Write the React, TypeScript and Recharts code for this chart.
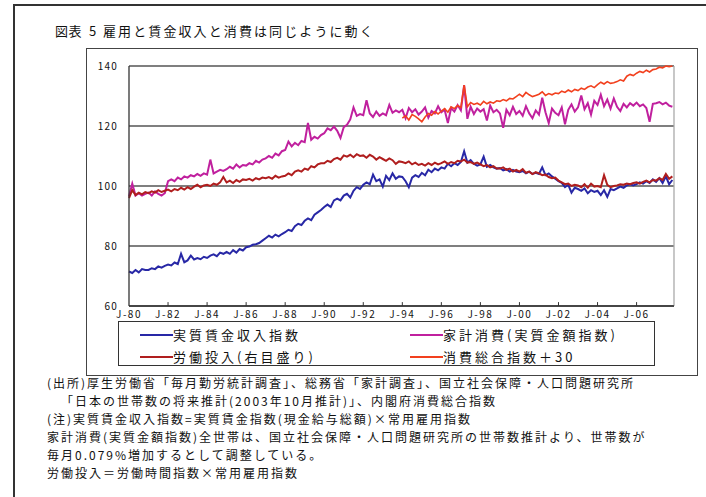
import { LineChart, Line, XAxis, YAxis, CartesianGrid, ReferenceLine } from "recharts";

const FONT = "'Noto Sans CJK JP', 'Noto Sans', sans-serif";

// bimonthly samples (Jan, Mar, May, Jul, Sep, Nov), Jan 1980 – Nov 2007
const STEP = 2;

const tickLabels = [
  "J-80", "J-82", "J-84", "J-86", "J-88", "J-90", "J-92",
  "J-94", "J-96", "J-98", "J-00", "J-02", "J-04", "J-06",
];
const yTicks = [60, 80, 100, 120, 140];

// 実質賃金収入指数
const wageIncome = [
  71.5, 71.0, 72.0, 71.2, 72.3, 72.0, // 1980
  72.0, 72.6, 72.3, 73.2, 72.8, 73.4, // 1981
  73.8, 73.5, 74.5, 74.0, 77.4, 74.6, // 1982
  75.2, 76.8, 75.5, 76.0, 75.6, 76.4, // 1983
  76.0, 76.8, 77.2, 76.6, 77.8, 77.4, // 1984
  78.0, 77.4, 78.6, 77.8, 79.0, 78.5, // 1985
  79.6, 79.8, 80.4, 80.6, 81.0, 81.8, // 1986
  82.6, 83.4, 82.8, 83.8, 83.2, 84.0, // 1987
  84.6, 85.4, 85.0, 86.6, 87.4, 87.0, // 1988
  88.4, 89.2, 88.6, 90.4, 91.2, 92.0, // 1989
  93.0, 93.8, 93.0, 95.2, 95.8, 95.2, // 1990
  96.8, 97.4, 96.2, 98.4, 99.6, 99.0, // 1991
  100.4, 101.2, 100.6, 103.8, 101.6, 102.2, // 1992
  99.8, 103.4, 102.0, 104.2, 102.4, 103.2, // 1993
  103.0, 101.6, 99.6, 102.8, 103.6, 103.0, // 1994
  104.4, 103.6, 105.4, 104.6, 105.8, 105.2, // 1995
  106.2, 105.8, 107.4, 106.6, 107.6, 107.0, // 1996
  108.0, 111.6, 107.8, 108.6, 107.4, 106.8, // 1997
  107.2, 109.8, 106.4, 107.0, 106.2, 105.8, // 1998
  106.0, 105.2, 105.6, 104.8, 105.4, 104.8, // 1999
  104.6, 105.0, 104.2, 104.8, 104.0, 104.4, // 2000
  104.0, 106.2, 103.6, 104.2, 103.2, 102.4, // 2001
  101.6, 101.0, 99.6, 100.4, 97.8, 99.4, // 2002
  99.0, 98.4, 99.2, 97.6, 98.6, 98.0, // 2003
  98.4, 97.0, 98.6, 96.4, 99.0, 98.6, // 2004
  99.2, 99.8, 99.4, 100.2, 100.6, 100.2, // 2005
  100.6, 101.2, 100.8, 101.6, 101.0, 102.2, // 2006
  101.4, 102.6, 101.0, 103.2, 100.6, 102.0, // 2007
];

// 家計消費(実質金額指数)
const householdSpending = [
  96.6, 100.8, 96.8, 97.6, 96.8, 97.4, // 1980
  97.8, 96.8, 98.2, 97.4, 96.8, 97.6, // 1981
  101.6, 102.2, 101.6, 102.8, 102.2, 103.2, // 1982
  102.8, 103.6, 103.2, 104.0, 103.4, 104.2, // 1983
  103.8, 108.8, 104.2, 104.8, 105.4, 105.0, // 1984
  105.6, 106.4, 105.8, 107.2, 106.2, 107.0, // 1985
  106.8, 107.6, 107.2, 108.4, 107.8, 108.8, // 1986
  109.2, 110.0, 109.4, 110.8, 110.2, 111.6, // 1987
  112.0, 114.8, 113.2, 114.4, 113.6, 115.0, // 1988
  114.6, 121.0, 115.4, 116.4, 115.8, 117.0, // 1989
  117.6, 119.2, 118.6, 119.8, 118.4, 116.0, // 1990
  119.6, 120.4, 122.2, 126.2, 123.4, 124.0, // 1991
  123.6, 128.6, 124.2, 123.0, 124.8, 123.4, // 1992
  124.2, 123.6, 127.0, 124.4, 125.2, 124.6, // 1993
  125.4, 122.6, 126.0, 124.6, 125.6, 123.8, // 1994
  124.8, 126.2, 122.8, 125.0, 124.2, 126.6, // 1995
  124.6, 125.4, 121.0, 126.0, 124.8, 127.0, // 1996
  125.2, 133.6, 122.4, 126.4, 124.0, 125.8, // 1997
  124.8, 125.6, 121.8, 126.8, 124.6, 125.4, // 1998
  124.2, 119.4, 125.4, 123.6, 126.4, 124.0, // 1999
  125.0, 123.4, 126.6, 124.2, 122.6, 125.2, // 2000
  123.8, 129.4, 124.6, 121.0, 125.8, 124.4, // 2001
  123.6, 126.2, 120.6, 125.4, 127.2, 124.8, // 2002
  126.2, 130.2, 125.6, 127.6, 123.8, 128.4, // 2003
  127.0, 130.4, 126.6, 128.8, 125.8, 129.2, // 2004
  126.4, 125.0, 127.4, 126.2, 127.6, 126.8, // 2005
  127.8, 126.6, 127.2, 126.0, 121.4, 127.4, // 2006
  127.6, 128.0, 127.2, 127.8, 126.8, 126.4, // 2007
];

// 労働投入(右目盛り)
const laborInput = [
  96.0, 98.6, 97.0, 97.8, 97.2, 98.0, // 1980
  97.6, 98.2, 97.8, 98.6, 98.0, 98.4, // 1981
  98.8, 98.2, 99.0, 98.6, 99.4, 98.8, // 1982
  99.6, 99.0, 99.8, 100.4, 99.6, 100.2, // 1983
  100.4, 100.0, 100.8, 100.4, 101.2, 103.0, // 1984
  101.2, 101.8, 101.0, 102.0, 101.4, 102.2, // 1985
  102.0, 102.4, 101.8, 102.6, 102.2, 102.8, // 1986
  102.6, 103.0, 102.4, 103.4, 102.8, 103.2, // 1987
  103.4, 104.2, 103.6, 104.8, 105.2, 104.8, // 1988
  105.8, 105.4, 106.6, 106.2, 107.2, 107.6, // 1989
  107.6, 108.4, 108.0, 109.0, 109.4, 108.8, // 1990
  110.2, 109.8, 110.4, 109.6, 110.6, 110.0, // 1991
  110.2, 109.4, 110.4, 109.8, 108.8, 109.6, // 1992
  109.0, 108.4, 109.2, 108.6, 107.4, 108.2, // 1993
  108.0, 107.6, 108.2, 107.2, 107.8, 107.0, // 1994
  107.4, 106.8, 107.6, 107.0, 107.8, 107.2, // 1995
  107.6, 108.2, 107.4, 108.0, 107.6, 108.4, // 1996
  108.2, 108.8, 107.8, 108.0, 107.4, 107.8, // 1997
  107.2, 106.6, 107.0, 106.2, 106.6, 105.8, // 1998
  105.8, 106.2, 105.4, 105.8, 104.8, 105.4, // 1999
  104.8, 105.6, 104.4, 104.8, 104.0, 104.6, // 2000
  104.2, 103.6, 103.8, 103.0, 102.6, 102.8, // 2001
  101.8, 101.2, 100.6, 100.8, 100.0, 100.4, // 2002
  100.2, 99.6, 100.6, 99.4, 100.8, 99.8, // 2003
  100.0, 99.6, 103.6, 100.4, 99.6, 100.0, // 2004
  100.2, 100.6, 100.4, 100.8, 100.6, 101.0, // 2005
  101.2, 100.8, 101.4, 101.8, 101.2, 102.0, // 2006
  101.8, 102.6, 102.0, 104.0, 102.4, 103.2, // 2007
];

// 消費総合指数+30, from Jan 1994
const CONS_START = 84;
const consumptionTotal = [
  122.6, 123.4, 122.0, 123.8, 123.2, 122.4, // 1994
  121.4, 123.0, 124.2, 123.6, 124.8, 124.0, // 1995
  125.0, 125.8, 124.6, 126.4, 125.8, 126.8, // 1996
  126.2, 133.6, 126.4, 127.8, 127.2, 127.6, // 1997
  127.0, 128.2, 127.4, 128.0, 127.6, 128.4, // 1998
  128.2, 128.8, 128.4, 129.2, 129.0, 129.8, // 1999
  130.6, 129.8, 131.2, 130.4, 129.8, 130.2, // 2000
  130.6, 131.4, 130.2, 130.8, 130.4, 131.0, // 2001
  130.8, 131.6, 131.2, 132.0, 131.4, 132.2, // 2002
  131.8, 132.6, 132.2, 133.0, 133.4, 132.8, // 2003
  133.8, 134.6, 134.0, 134.8, 134.2, 134.4, // 2004
  134.8, 135.4, 135.0, 136.6, 137.2, 136.8, // 2005
  137.6, 138.2, 137.8, 138.6, 138.0, 138.8, // 2006
  139.0, 139.6, 139.4, 140.0, 139.8, 140.0, // 2007
];

const data = wageIncome.map((v, i) => ({
  t: i * STEP,
  wage: v,
  spend: householdSpending[i],
  labor: laborInput[i],
  cons: i >= CONS_START ? consumptionTotal[i - CONS_START] : null,
}));

const tickMonths = tickLabels.map((_, i) => i * 24);
const LAST_MONTH = 335;

const COLORS = {
  wage: "#2828a6",
  spend: "#c0209e",
  labor: "#b01e1e",
  cons: "#f2401e",
};

const XTick = ({ x, y, payload }: any) => (
  <text x={x} y={y} dy={8} textAnchor="middle" fontSize={10} letterSpacing={1.5} fill="#111" fontFamily={FONT}>
    {tickLabels[Math.round(payload.value / 24)]}
  </text>
);

const YTick = ({ x, y, payload }: any) => (
  <text x={x} y={y} dy={4} textAnchor="end" fontSize={10} letterSpacing={1.2} fill="#111" fontFamily={FONT}>
    {payload.value}
  </text>
);

const legendItems = [
  { label: "実質賃金収入指数", color: COLORS.wage },
  { label: "家計消費(実質金額指数)", color: COLORS.spend },
  { label: "労働投入(右目盛り)", color: COLORS.labor },
  { label: "消費総合指数＋30", color: COLORS.cons },
];

const notes = [
  { text: "(出所)厚生労働省「毎月勤労統計調査」、総務省「家計調査」、国立社会保障・人口問題研究所", indent: 0 },
  { text: "「日本の世帯数の将来推計(2003年10月推計)」、内閣府消費総合指数", indent: 14 },
  { text: "(注)実質賃金収入指数=実質賃金指数(現金給与総額)×常用雇用指数", indent: 0 },
  { text: "家計消費(実質金額指数)全世帯は、国立社会保障・人口問題研究所の世帯数推計より、世帯数が", indent: 0 },
  { text: "毎月0.079%増加するとして調整している。", indent: 0 },
  { text: "労働投入＝労働時間指数×常用雇用指数", indent: 0 },
];

export default function App() {
  return (
    <div
      style={{
        position: "absolute",
        left: 0,
        top: 0,
        width: 706,
        height: 497,
        background: "#fff",
        overflow: "hidden",
        fontFamily: FONT,
        color: "#111",
      }}
    >
      {/* outer frame */}
      <div
        style={{
          position: "absolute",
          left: 13,
          top: 4,
          width: 720,
          height: 520,
          borderLeft: "2px solid #333",
          borderTop: "2px solid #333",
        }}
      />
      <div style={{ position: "absolute", left: 55, top: 21, fontSize: 13, letterSpacing: 0.5, whiteSpace: "nowrap" }}>
        図表
      </div>
      <div style={{ position: "absolute", left: 89, top: 21, fontSize: 13, whiteSpace: "nowrap" }}>5</div>
      <div style={{ position: "absolute", left: 103, top: 21, fontSize: 13, letterSpacing: 2.1, whiteSpace: "nowrap" }}>
        雇用と賃金収入と消費は同じように動く
      </div>

      {/* chart box */}
      <div
        style={{
          position: "absolute",
          left: 86,
          top: 48,
          width: 610,
          height: 326,
          border: "1px solid #444",
        }}
      />
      <div style={{ position: "absolute", left: 87, top: 49 }}>
        <LineChart width={610} height={277} data={data} margin={{ top: 17, right: 23, bottom: 0, left: 0 }}>
          <CartesianGrid horizontal vertical={false} stroke="#555" strokeWidth={1.3} />
          <XAxis
            type="number"
            dataKey="t"
            domain={[0, LAST_MONTH]}
            ticks={tickMonths}
            tick={<XTick />}
            tickLine={false}
            axisLine={{ stroke: "#333", strokeWidth: 1.3 }}
            height={20}
            tickSize={0}
            tickMargin={4}
            interval={0}
          />
          <YAxis
            domain={[60, 140]}
            ticks={yTicks}
            tick={<YTick />}
            tickLine={false}
            axisLine={{ stroke: "#333", strokeWidth: 1.3 }}
            width={42}
            tickSize={0}
            tickMargin={11}
            interval={0}
          />
          <ReferenceLine x={LAST_MONTH} stroke="#aaa" strokeWidth={1.3} />
          {tickMonths.slice(1).map((m) => (
            <ReferenceLine
              key={m}
              segment={[
                { x: m, y: 60 },
                { x: m, y: 61.3 },
              ]}
              stroke="#333"
              strokeWidth={1}
            />
          ))}
          <Line dataKey="wage" stroke={COLORS.wage} strokeWidth={2} dot={false} isAnimationActive={false} />
          <Line dataKey="spend" stroke={COLORS.spend} strokeWidth={2} dot={false} isAnimationActive={false} />
          <Line dataKey="cons" stroke={COLORS.cons} strokeWidth={1.6} dot={false} isAnimationActive={false} connectNulls={false} />
          <Line dataKey="labor" stroke={COLORS.labor} strokeWidth={2} dot={false} isAnimationActive={false} />
        </LineChart>
      </div>

      {/* legend */}
      <div
        style={{
          position: "absolute",
          left: 118,
          top: 321,
          width: 537,
          height: 45,
          border: "1px solid #333",
          boxSizing: "border-box",
        }}
      >
        {legendItems.map((item, i) => (
          <div
            key={item.label}
            style={{
              position: "absolute",
              left: i % 2 === 0 ? 21 : 291,
              top: i < 2 ? 3 : 25,
              display: "flex",
              alignItems: "center",
              fontSize: 13,
              letterSpacing: 3,
              whiteSpace: "nowrap",
            }}
          >
            <span style={{ display: "inline-block", width: 33, height: 2, background: item.color }} />
            <span>{item.label}</span>
          </div>
        ))}
      </div>

      {/* notes */}
      {notes.map((n, i) => (
        <div
          key={i}
          style={{
            position: "absolute",
            left: 47 + n.indent,
            top: 374 + i * 18,
            fontSize: 12,
            letterSpacing: 2.0,
            whiteSpace: "nowrap",
          }}
        >
          {n.text}
        </div>
      ))}
    </div>
  );
}
